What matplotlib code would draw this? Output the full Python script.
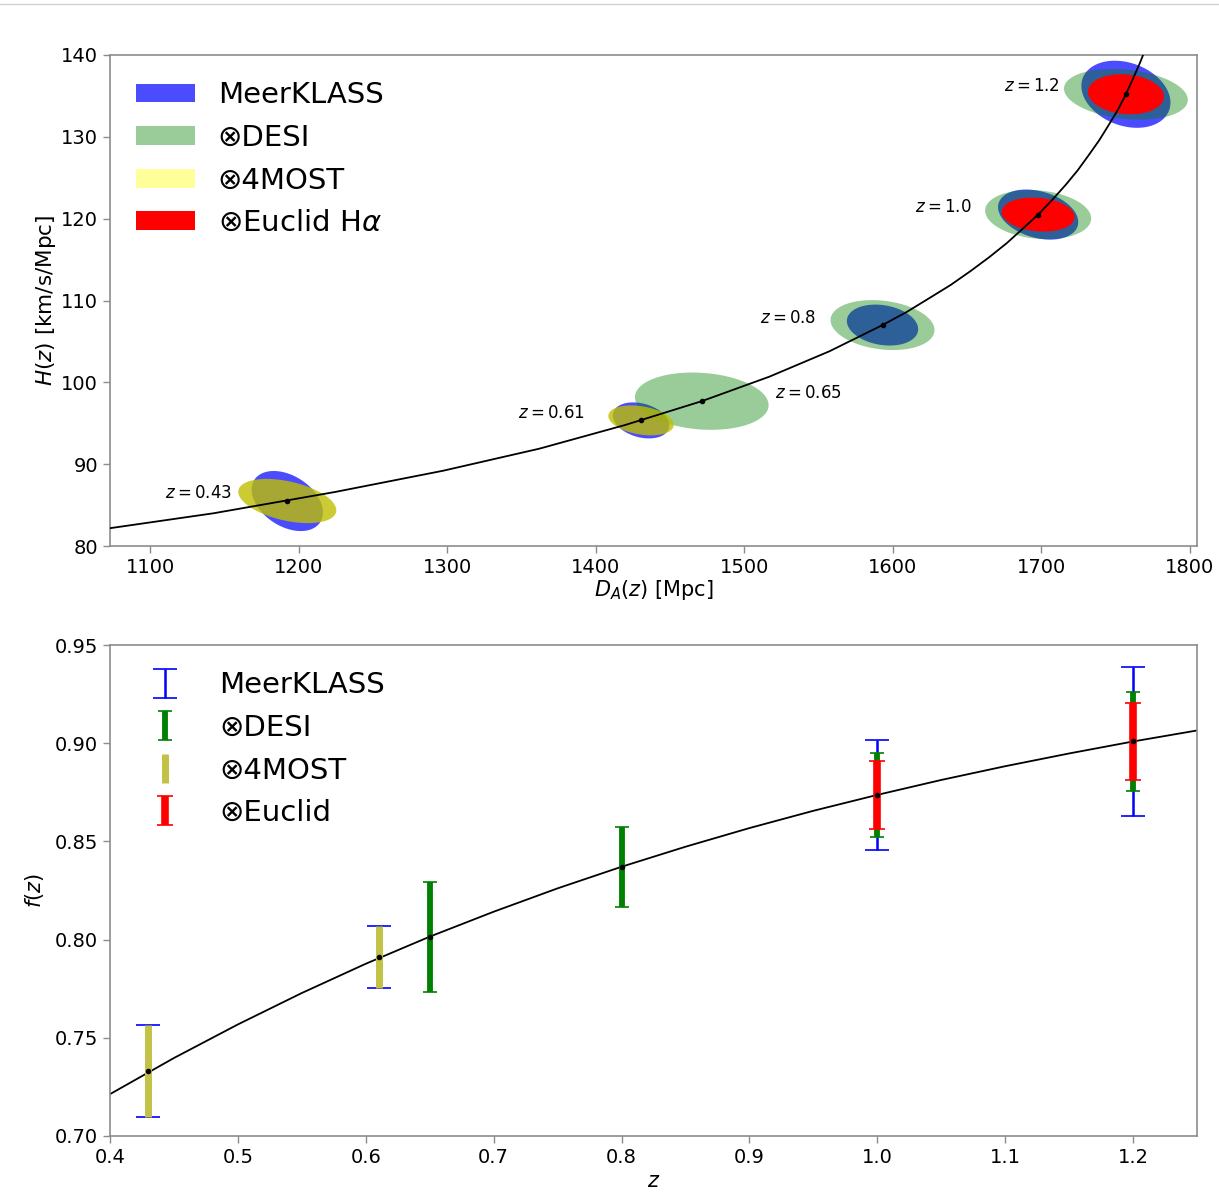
import numpy as np
import matplotlib
matplotlib.use("Agg")
import matplotlib.pyplot as plt
from matplotlib.patches import Patch
from matplotlib.lines import Line2D

# =========================================
# DATOS
# =========================================

# curva fiducial H(z) vs D_A(z)
z_curve = [0.35, 0.40, 0.45, 0.50, 0.55, 0.60, 0.65, 0.70, 0.75, 0.80,
           0.825, 0.85, 0.875, 0.90, 0.925, 0.95, 0.975, 1.00, 1.025, 1.05,
           1.075, 1.10, 1.125, 1.15, 1.175, 1.20, 1.225, 1.25, 1.275, 1.30]
da_curve = [1050.8, 1142.6, 1224.4, 1297.3, 1362.2, 1420.1, 1471.5, 1517.1,
            1557.5, 1593.2, 1609.5, 1624.8, 1639.1, 1652.5, 1665.1, 1676.8,
            1687.8, 1698.0, 1707.5, 1716.4, 1724.6, 1732.2, 1739.2, 1745.7,
            1751.7, 1757.1, 1762.1, 1766.7, 1770.8, 1774.5]
h_curve = [81.6, 84.0, 86.6, 89.2, 91.9, 94.8, 97.7, 100.7, 103.8, 107.0,
           108.6, 110.3, 111.9, 113.6, 115.3, 117.0, 118.8, 120.5, 122.3, 124.1,
           125.9, 127.8, 129.6, 131.5, 133.3, 135.2, 137.2, 139.1, 141.0, 143.0]

# curva fiducial f(z)
zf_curve = [0.40, 0.45, 0.50, 0.55, 0.60, 0.65, 0.70, 0.75, 0.80, 0.85,
            0.90, 0.95, 1.00, 1.05, 1.10, 1.15, 1.20, 1.25]
f_curve = [0.7213, 0.7397, 0.7568, 0.7728, 0.7877, 0.8015, 0.8142, 0.8261,
           0.8371, 0.8473, 0.8568, 0.8656, 0.8737, 0.8813, 0.8883, 0.8948,
           0.9009, 0.9065]

# puntos fiduciales
z_fid = [0.43, 0.61, 0.65, 0.8, 1.0, 1.2]
da_fid = [1192.4, 1430.6, 1471.5, 1593.2, 1698.0, 1757.1]
h_fid = [85.5, 95.35, 97.7, 107.0, 120.5, 135.2]
f_fid = [0.733, 0.791, 0.8015, 0.8371, 0.8737, 0.9009]
z_text = ["0.43", "0.61", "0.65", "0.8", "1.0", "1.2"]

# elipses: semi-extension en D_A, en H, correlacion
blue_z = [0.43, 0.61, 0.8, 1.0, 1.2]
blue_dx = [24, 19, 24, 27, 30]
blue_dy = [3.67, 2.2, 2.5, 3.06, 4.1]
blue_rho = [-0.38, -0.28, -0.2, -0.3, -0.25]

green_z = [0.65, 0.8, 1.0, 1.2]
green_dx = [45, 35, 35.7, 41.7]
green_dy = [3.5, 3.05, 3.0, 3.1]
green_rho = [-0.14, -0.2, -0.16, -0.22]

yellow_z = [0.43, 0.61]
yellow_dx = [33, 22]
yellow_dy = [2.7, 1.83]
yellow_rho = [-0.42, -0.3]

red_z = [1.0, 1.2]
red_dx = [24.6, 25.6]
red_dy = [2.08, 2.44]
red_rho = [-0.15, -0.12]

# barras de error f(z)
meer_z = [0.43, 0.61, 1.0, 1.2]
meer_err = [0.0234, 0.0157, 0.028, 0.038]
desi_z = [0.65, 0.8, 1.0, 1.2]
desi_err = [0.028, 0.0203, 0.0212, 0.025]
most_z = [0.43, 0.61]
most_err = [0.0234, 0.0157]
eucl_z = [1.0, 1.2]
eucl_err = [0.0175, 0.0195]

da_of = dict(zip(z_fid, da_fid))
h_of = dict(zip(z_fid, h_fid))
f_of = dict(zip(z_fid, f_fid))

BLUE = (0, 0, 1, 0.7)
GREEN = (0, 0.5, 0, 0.4)
YELLOW = (0.75, 0.75, 0, 0.8)
RED = (1, 0, 0, 1)


def ellipse(ax, zs, dxs, dys, rhos, color, zo):
    t = np.linspace(0, 2 * np.pi, 200)
    for z, dx, dy, r in zip(zs, dxs, dys, rhos):
        u, v = np.cos(t), np.sin(t)
        x = da_of[z] + dx * u
        y = h_of[z] + dy * (r * u + np.sqrt(1 - r ** 2) * v)
        ax.fill(x, y, color=color, lw=0, zorder=zo)


def style(ax):
    for s in ax.spines.values():
        s.set_color("#8c8c8c")
        s.set_linewidth(1.2)
    ax.tick_params(direction="out", length=5, width=1, color="#8c8c8c",
                   labelsize=14, labelcolor="black")


fig = plt.figure(figsize=(12.19, 12.03), dpi=100)
fig.add_artist(Line2D([0, 1], [1 - 4 / 1203, 1 - 4 / 1203],
                      color="#d0d0d0", lw=1))

# =========================================
# PANEL SUPERIOR
# =========================================

ax1 = fig.add_axes([0.0902, 0.5461, 0.8918, 0.4082])

ellipse(ax1, blue_z, blue_dx, blue_dy, blue_rho, BLUE, 2)
ellipse(ax1, green_z, green_dx, green_dy, green_rho, GREEN, 3)
ellipse(ax1, yellow_z, yellow_dx, yellow_dy, yellow_rho, YELLOW, 4)
ellipse(ax1, red_z, red_dx, red_dy, red_rho, RED, 5)

ax1.plot(da_curve, h_curve, color="black", lw=1.3, zorder=6)
ax1.plot(da_fid, h_fid, "o", color="black", ms=3, zorder=7)

lab_pos = [(1155, 86.5, "right"), (1393, 96.25, "right"), (1521, 98.7, "left"),
           (1548, 107.9, "right"), (1653, 121.4, "right"), (1712, 136.2, "right")]
for (x, y, ha), t in zip(lab_pos, z_text):
    ax1.text(x, y, r"$z = %s$" % t, ha=ha, va="center", fontsize=12, zorder=8)

ax1.set_xlim(1073, 1805)
ax1.set_ylim(80, 140)
ax1.set_xticks(range(1100, 1801, 100))
ax1.set_yticks(range(80, 141, 10))
ax1.set_xlabel(r"$D_A(z)$ [Mpc]", fontsize=15, labelpad=1)
ax1.set_ylabel(r"$H(z)$ [km/s/Mpc]", fontsize=15.5, labelpad=2)
style(ax1)

handles1 = [Patch(color=(0, 0, 1, 0.7), lw=0),
            Patch(color=(0, 0.5, 0, 0.4), lw=0),
            Patch(color=(1, 1, 0, 0.4), lw=0),
            Patch(color=(1, 0, 0, 1), lw=0)]
labels1 = ["MeerKLASS", "⊗DESI", "⊗4MOST", r"⊗Euclid H$\alpha$"]
ax1.legend(handles1, labels1, loc="upper left", bbox_to_anchor=(0.0, 1.0),
           frameon=False, fontsize=21, handlelength=2.0, handleheight=0.62,
           handletextpad=0.8, labelspacing=0.5)

# =========================================
# PANEL INFERIOR
# =========================================

ax2 = fig.add_axes([0.0902, 0.0557, 0.8918, 0.4081])

ax2.plot(zf_curve, f_curve, color="black", lw=1.3, zorder=1)

ax2.errorbar(meer_z, [f_of[z] for z in meer_z], yerr=meer_err, fmt="none",
             ecolor="b", elinewidth=1.8, capsize=8.5, capthick=1.2,
             label="MeerKLASS", zorder=2)
ax2.errorbar(desi_z, [f_of[z] for z in desi_z], yerr=desi_err, fmt="none",
             ecolor="g", elinewidth=4.2, capsize=5, capthick=1.2,
             label="⊗DESI", zorder=3)
ax2.errorbar(most_z, [f_of[z] for z in most_z], yerr=most_err, fmt="none",
             ecolor=(0.76, 0.76, 0.28), elinewidth=5, capsize=0,
             label="⊗4MOST", zorder=4)
ax2.errorbar(eucl_z, [f_of[z] for z in eucl_z], yerr=eucl_err, fmt="none",
             ecolor="r", elinewidth=5.5, capsize=6, capthick=1.2,
             label="⊗Euclid", zorder=5)
ax2.plot(z_fid, f_fid, "o", color="black", ms=3, zorder=6)

ax2.set_xlim(0.4, 1.25)
ax2.set_ylim(0.70, 0.95)
ax2.set_xticks(np.arange(0.4, 1.21, 0.1))
ax2.set_yticks(np.arange(0.70, 0.951, 0.05))
ax2.set_xticklabels(["0.4", "0.5", "0.6", "0.7", "0.8", "0.9", "1.0", "1.1", "1.2"])
ax2.set_yticklabels(["0.70", "0.75", "0.80", "0.85", "0.90", "0.95"])
ax2.set_xlabel(r"$z$", fontsize=15, labelpad=3)
ax2.set_ylabel(r"$f(z)$", fontsize=15, labelpad=6)
style(ax2)

ax2.legend(loc="upper left", bbox_to_anchor=(0.0, 1.0), frameon=False,
           fontsize=21, handlelength=2.0, handletextpad=0.85, labelspacing=0.5)

fig.savefig("out.png", dpi=100)
print("ok")
